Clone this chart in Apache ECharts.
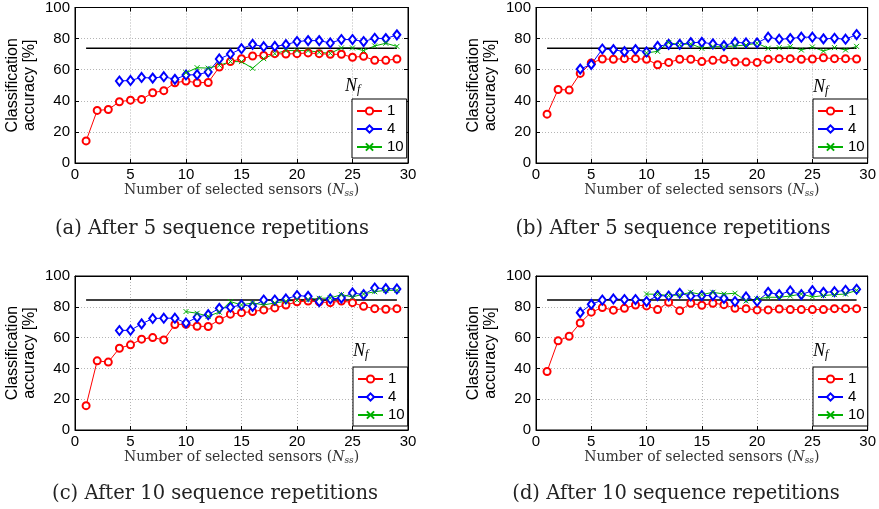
<!DOCTYPE html>
<html>
<head>
<meta charset="utf-8">
<script src="https://cdn.jsdelivr.net/npm/echarts@6/dist/echarts.min.js"></script>
<style>
html,body{margin:0;padding:0;background:#fff;}
#c{width:879px;height:509px;}
</style>
</head>
<body>
<div id="c"></div>
<script>
// ---- data ----
var sensorsNf1 = [1,2,3,4,5,6,7,8,9,10,11,12,13,14,15,16,17,18,19,20,21,22,23,24,25,26,27,28,29];
var sensorsNf4 = [4,5,6,7,8,9,10,11,12,13,14,15,16,17,18,19,20,21,22,23,24,25,26,27,28,29];
var sensorsNf10 = [10,11,12,13,14,15,16,17,18,19,20,21,22,23,24,25,26,27,28,29];

var panelA_nf1 = [14.2,33.8,34.4,39.4,40.4,40.9,45.2,46.5,51.6,52.7,51.6,51.8,61.7,65.2,67.1,68.8,69.2,70.3,70.1,70.3,70.8,70.3,69.9,69.9,68.0,68.6,66.0,66.0,66.9];
var panelA_nf4 = [52.7,53.1,55.0,54.6,55.5,53.8,56.6,56.8,58.5,66.9,70.1,73.5,76.3,74.8,75.0,76.1,78.1,78.7,78.7,77.2,79.4,79.4,78.1,80.2,80.0,82.4];
var panelA_nf10 = [58.0,61.3,61.0,62.8,65.2,65.2,60.9,67.1,70.3,72.3,72.3,72.3,71.2,70.5,74.0,74.0,72.3,75.3,77.0,75.0];
var panelA_ref = 73.8;

var panelB_nf1 = [31.4,47.3,46.9,57.6,64.3,66.9,66.7,67.1,67.1,66.7,63.2,64.7,66.7,66.7,65.2,66.0,66.7,64.9,64.9,64.7,66.7,67.1,67.1,66.7,66.9,67.7,67.1,67.1,66.9];
var panelB_nf4 = [60.4,63.4,73.3,72.9,71.6,72.9,71.4,75.0,76.3,76.3,77.4,77.6,76.6,75.5,77.6,77.2,77.2,80.9,79.6,80.0,80.9,80.9,79.8,80.2,79.6,82.6];
var panelB_nf10 = [70.8,71.8,77.4,76.1,76.6,73.8,74.8,74.8,75.3,75.9,77.0,73.8,74.2,74.8,72.7,74.6,72.0,74.2,72.7,75.0];
var panelB_ref = 73.8;

var panelC_nf1 = [15.8,44.9,44.1,53.1,55.3,59.0,60.0,58.5,68.5,68.7,67.4,67.2,71.5,75.2,76.2,76.9,78.0,79.3,81.2,83.2,83.8,83.2,82.7,83.8,82.7,80.3,78.8,78.4,78.8];
var panelC_nf4 = [64.6,64.8,68.9,72.4,72.6,72.6,69.5,73.2,74.9,79.0,79.7,81.2,80.3,84.4,84.4,85.1,87.3,86.8,83.4,85.1,85.7,89.0,87.9,92.2,91.8,91.6];
var panelC_nf10 = [76.9,75.8,73.9,76.5,83.4,81.2,82.5,81.2,82.5,83.6,84.4,84.7,85.5,85.7,87.9,86.4,88.3,89.8,90.7,90.7];
var panelC_ref = 84.4;

var panelD_nf1 = [38.0,57.9,60.9,69.5,76.5,79.5,77.8,79.0,81.2,80.6,78.2,82.9,77.5,82.3,81.0,82.3,81.4,79.0,78.8,78.0,78.0,78.6,78.2,78.2,78.2,78.2,78.8,78.8,78.8];
var panelD_nf4 = [76.2,81.6,84.4,85.1,84.7,84.7,83.4,87.3,87.0,88.8,87.0,87.3,87.3,85.5,83.4,86.4,83.6,89.4,87.9,90.3,87.9,90.5,89.4,89.8,90.7,91.4];
var panelD_nf10 = [88.3,88.1,87.3,87.7,89.4,87.9,89.4,88.3,88.8,83.8,85.1,86.2,86.2,87.0,88.3,86.4,87.3,87.9,88.3,90.7];
var panelD_ref = 84.4;

var refRange = [1, 29];
var legendNames = ['1','4','10'];
var xTicks = [0,5,10,15,20,25,30];
var yTicks = [0,20,40,60,80,100];
var captions = ['(a) After 5 sequence repetitions','(b) After 5 sequence repetitions','(c) After 10 sequence repetitions','(d) After 10 sequence repetitions'];

// ---- layout ----
var panels = [
  {nf1: panelA_nf1, nf4: panelA_nf4, nf10: panelA_nf10, ref: panelA_ref},
  {nf1: panelB_nf1, nf4: panelB_nf4, nf10: panelB_nf10, ref: panelB_ref},
  {nf1: panelC_nf1, nf4: panelC_nf4, nf10: panelC_nf10, ref: panelC_ref},
  {nf1: panelD_nf1, nf4: panelD_nf4, nf10: panelD_nf10, ref: panelD_ref}
];
var gridPos = [
  {left: 75, top: 7, width: 333, height: 156},
  {left: 536, top: 7, width: 333, height: 156},
  {left: 75, top: 276, width: 333, height: 154},
  {left: 536, top: 276, width: 333, height: 154}
];
var legendPos = [
  {left: 352, top: 99},
  {left: 813, top: 99},
  {left: 353, top: 367},
  {left: 813, top: 367}
];
var nfPos = [[345, 86], [813, 87], [353, 351], [813, 351]];
var capPos = [[212, 229], [673, 229], [215, 494], [676, 494]];

function pairs(xs, ys) {
  var out = [];
  for (var i = 0; i < ys.length; i++) out.push([xs[i], ys[i]]);
  return out;
}

var RED = '#ff0000', BLUE = '#0000ff', GREEN = '#00b000';
var sans = 'Liberation Sans';
var serif = 'DejaVu Serif';

var grid = [], xAxis = [], yAxis = [], series = [], legend = [], graphic = [];

for (var p = 0; p < 4; p++) {
  var g = gridPos[p];
  grid.push({left: g.left, top: g.top, width: g.width, height: g.height, show: true,
    borderColor: '#000', borderWidth: 1, backgroundColor: '#fff', containLabel: false});
  xAxis.push({
    type: 'value', gridIndex: p, min: xTicks[0], max: xTicks[xTicks.length - 1], interval: 5,
    axisLine: {show: true, onZero: false, lineStyle: {color: '#000', width: 1}},
    axisTick: {show: true, inside: true, length: 4, lineStyle: {color: '#000'}},
    axisLabel: {show: true, margin: 4, color: '#000', fontFamily: sans, fontSize: 15},
    splitLine: {show: true, lineStyle: {color: '#b5b5b5', type: [1, 2], width: 1}},
    name: '{t|Number of selected sensors (}{i|N}{s|ss}{t|)}',
    nameLocation: 'middle', nameGap: 15,
    nameTextStyle: {
      color: '#333', fontFamily: serif, fontSize: 14, verticalAlign: 'top',
      rich: {
        t: {fontFamily: serif, fontSize: 14, color: '#333'},
        i: {fontFamily: serif, fontSize: 14, fontStyle: 'italic', color: '#333'},
        s: {fontFamily: serif, fontSize: 9, fontStyle: 'italic', color: '#333', padding: [7, 0, 0, 0]}
      }
    }
  });
  yAxis.push({
    type: 'value', gridIndex: p, min: yTicks[0], max: yTicks[yTicks.length - 1], interval: 20,
    axisLine: {show: true, onZero: false, lineStyle: {color: '#000', width: 1}},
    axisTick: {show: true, inside: true, length: 4, lineStyle: {color: '#000'}},
    axisLabel: {show: true, margin: 5, color: '#000', fontFamily: sans, fontSize: 15},
    splitLine: {show: true, lineStyle: {color: '#b5b5b5', type: [1, 2], width: 1}},
    name: 'Classification\naccuracy [%]',
    nameLocation: 'middle', nameRotate: 90, nameGap: 37,
    nameTextStyle: {color: '#000', fontFamily: sans, fontSize: 16, lineHeight: 17}
  });
}
// mirror axes for ticks on top/right
for (var q = 0; q < 4; q++) {
  xAxis.push({
    type: 'value', gridIndex: q, position: 'top', min: 0, max: 30, interval: 5,
    axisLine: {show: true, onZero: false, lineStyle: {color: '#000'}},
    axisTick: {show: true, inside: true, length: 4, lineStyle: {color: '#000'}},
    axisLabel: {show: false}, splitLine: {show: false}
  });
  yAxis.push({
    type: 'value', gridIndex: q, position: 'right', min: 0, max: 100, interval: 20,
    axisLine: {show: true, onZero: false, lineStyle: {color: '#000'}},
    axisTick: {show: true, inside: true, length: 4, lineStyle: {color: '#000'}},
    axisLabel: {show: false}, splitLine: {show: false}
  });
}

for (var k = 0; k < 4; k++) {
  var d = panels[k];
  series.push({
    name: '1', type: 'line', xAxisIndex: k, yAxisIndex: k,
    data: pairs(sensorsNf1, d.nf1), symbol: 'emptyCircle', symbolSize: 7,
    lineStyle: {color: RED, width: 1}, itemStyle: {color: RED, borderColor: RED, borderWidth: 1},
    silent: true, animation: false
  });
  series.push({
    name: '4', type: 'line', xAxisIndex: k, yAxisIndex: k,
    data: pairs(sensorsNf4, d.nf4), symbol: 'emptyDiamond', symbolSize: [7, 9],
    lineStyle: {color: BLUE, width: 1}, itemStyle: {color: BLUE, borderColor: BLUE, borderWidth: 1},
    silent: true, animation: false
  });
  series.push({
    name: '10', type: 'line', xAxisIndex: k, yAxisIndex: k,
    data: pairs(sensorsNf10, d.nf10), symbol: 'path://M0,0L10,10M10,0L0,10', symbolSize: 5,
    lineStyle: {color: GREEN, width: 1}, itemStyle: {color: GREEN, borderColor: GREEN, borderWidth: 1},
    silent: true, animation: false
  });
  series.push({
    name: 'ref', type: 'line', xAxisIndex: k, yAxisIndex: k,
    data: [[refRange[0], d.ref], [refRange[1], d.ref]], symbol: 'none',
    lineStyle: {color: '#000', width: 1.5}, silent: true, animation: false
  });
  legend.push({
    data: legendNames, orient: 'vertical', left: legendPos[k].left, top: legendPos[k].top,
    backgroundColor: '#fff', borderColor: '#000', borderWidth: 1, borderRadius: 0,
    padding: [4, 3, 3, 4], itemGap: 2, itemWidth: 25, itemHeight: 9,
    selectedMode: false,
    textStyle: {color: '#000', fontFamily: sans, fontSize: 15, lineHeight: 16}
  });
  graphic.push({
    type: 'text', x: nfPos[k][0], y: nfPos[k][1], z: 100,
    style: {
      text: '{n|N}{f|f}', verticalAlign: 'middle', align: 'left',
      rich: {
        n: {fontFamily: 'Liberation Serif', fontStyle: 'italic', fontSize: 18, color: '#333'},
        f: {fontFamily: 'Liberation Serif', fontStyle: 'italic', fontSize: 12, color: '#333', padding: [8, 0, 0, 0]}
      }
    }
  });
  graphic.push({
    type: 'text', x: capPos[k][0], y: capPos[k][1],
    style: {text: captions[k], fontFamily: serif, fontSize: 19.5, fill: '#222', align: 'center', verticalAlign: 'middle'}
  });
}

var chart = echarts.init(document.getElementById('c'), null, {renderer: 'canvas'});
chart.setOption({
  backgroundColor: '#fff', animation: false,
  grid: grid, xAxis: xAxis, yAxis: yAxis, series: series, legend: legend, graphic: graphic
});
</script>
</body>
</html>
